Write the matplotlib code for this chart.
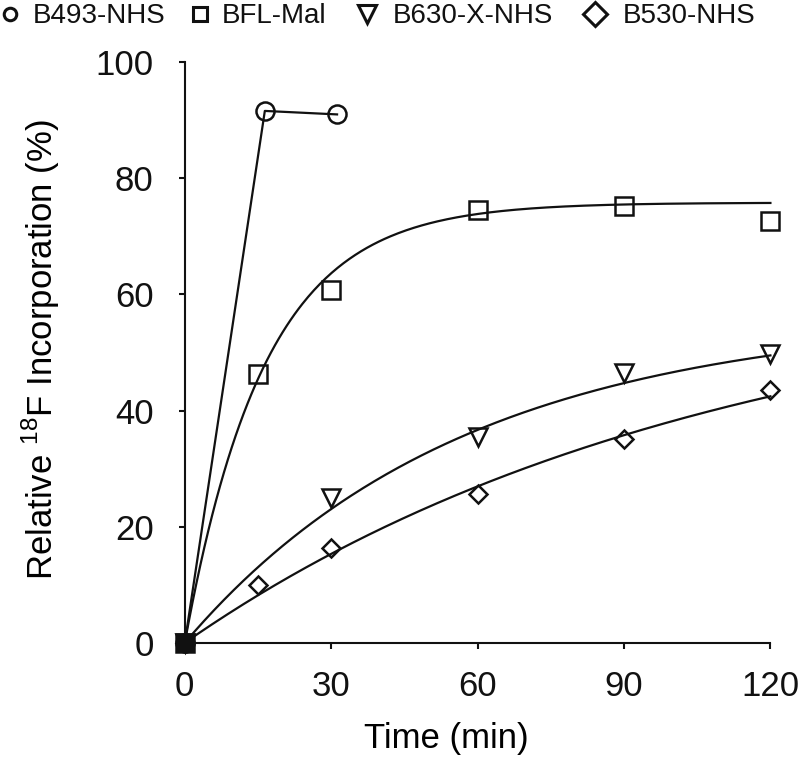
"""Relative 18F incorporation vs time for four BODIPY conjugates."""
import numpy as np
import matplotlib
matplotlib.use("Agg")
import matplotlib.pyplot as plt
from matplotlib.lines import Line2D

plt.rcParams["font.family"] = ["Liberation Sans", "DejaVu Sans"]

# ---------------------------------------------------------------------
# data
# ---------------------------------------------------------------------
b493_t = [0, 16.4, 31.2]
b493_y = [0, 91.6, 91.0]

bfl_t = [0, 15, 30, 60, 90, 120]
bfl_y = [0, 46.3, 60.8, 74.5, 75.2, 72.6]

b630_t = [0, 30, 60, 90, 120]
b630_y = [0, 25.0, 35.4, 46.5, 49.8]

b530_t = [0, 15, 30, 60, 90, 120]
b530_y = [0, 10.0, 16.3, 25.6, 35.1, 43.5]

# one-phase association fits, y = plateau * (1 - exp(-k t))
bfl_fit = (75.8, 0.061)
b630_fit = (56.4, 0.0175)
b530_fit = (63.5, 0.0092)

series_names = ["B493-NHS", "BFL-Mal", "B630-X-NHS", "B530-NHS"]

INK = "#111111"
LW = 1.6
EDGE = 1.8
FS = 25
W, H = 800, 758

fig = plt.figure(figsize=(W / 100, H / 100), dpi=100)
ax = fig.add_axes([0.231, 0.152, 0.732, 0.766])

t_fit = np.linspace(0, 120, 300)
for plateau, k in (bfl_fit, b630_fit, b530_fit):
    ax.plot(t_fit, plateau * (1 - np.exp(-k * t_fit)), color=INK, lw=LW, clip_on=False)

ax.plot(b493_t, b493_y, color=INK, lw=LW, marker="o", ms=13, mfc="none",
        mec=INK, mew=EDGE, clip_on=False)
ax.plot(bfl_t, bfl_y, ls="none", marker="s", ms=13, mfc="none", mec=INK,
        mew=EDGE, clip_on=False)
ax.plot(b630_t, b630_y, ls="none", marker="v", ms=13, mfc="none", mec=INK,
        mew=EDGE, clip_on=False)
ax.plot(b530_t, b530_y, ls="none", marker="D", ms=9.5, mfc="none", mec=INK,
        mew=EDGE, clip_on=False)
ax.plot([0], [0], ls="none", marker="s", ms=12, color=INK, clip_on=False)

ax.set_xlim(0, 120)
ax.set_ylim(0, 100)
ax.set_xticks([0, 30, 60, 90, 120])
ax.set_yticks([0, 20, 40, 60, 80, 100])
for side in ("top", "right"):
    ax.spines[side].set_visible(False)
for side in ("left", "bottom"):
    ax.spines[side].set_linewidth(1.5)
    ax.spines[side].set_color(INK)
ax.tick_params(direction="out", length=4.5, width=1.5, labelsize=FS, colors=INK)
ax.tick_params(axis="y", pad=18)
ax.tick_params(axis="x", pad=15)
ax.set_xlabel("Time (min)", fontsize=FS)
ax.set_ylabel("Relative $^{\\mathregular{18}}$F Incorporation (%)", fontsize=FS)
ax.xaxis.set_label_coords(0.447, -0.136)
ax.yaxis.set_label_coords(-0.21, 0.505)

# legend row above the axes, laid out by hand (pixel positions from the top-left)
legend_markers = [("o", 9), ("s", 10), ("v", 13), ("D", 12.5)]
marker_x = [10, 200, 367, 595]
text_x = [33, 222, 393, 623]
for (mk, ms), mx, tx, name in zip(legend_markers, marker_x, text_x, series_names):
    fig.add_artist(Line2D([mx / W], [1 - 14 / H], transform=fig.transFigure, ls="none",
                          marker=mk, ms=ms, mfc="none", mec=INK, mew=2.2))
    fig.text(tx / W, 1 - 23 / H, name, fontsize=20, color=INK, ha="left", va="baseline")

fig.savefig("out.png", dpi=100)
plt.close(fig)
